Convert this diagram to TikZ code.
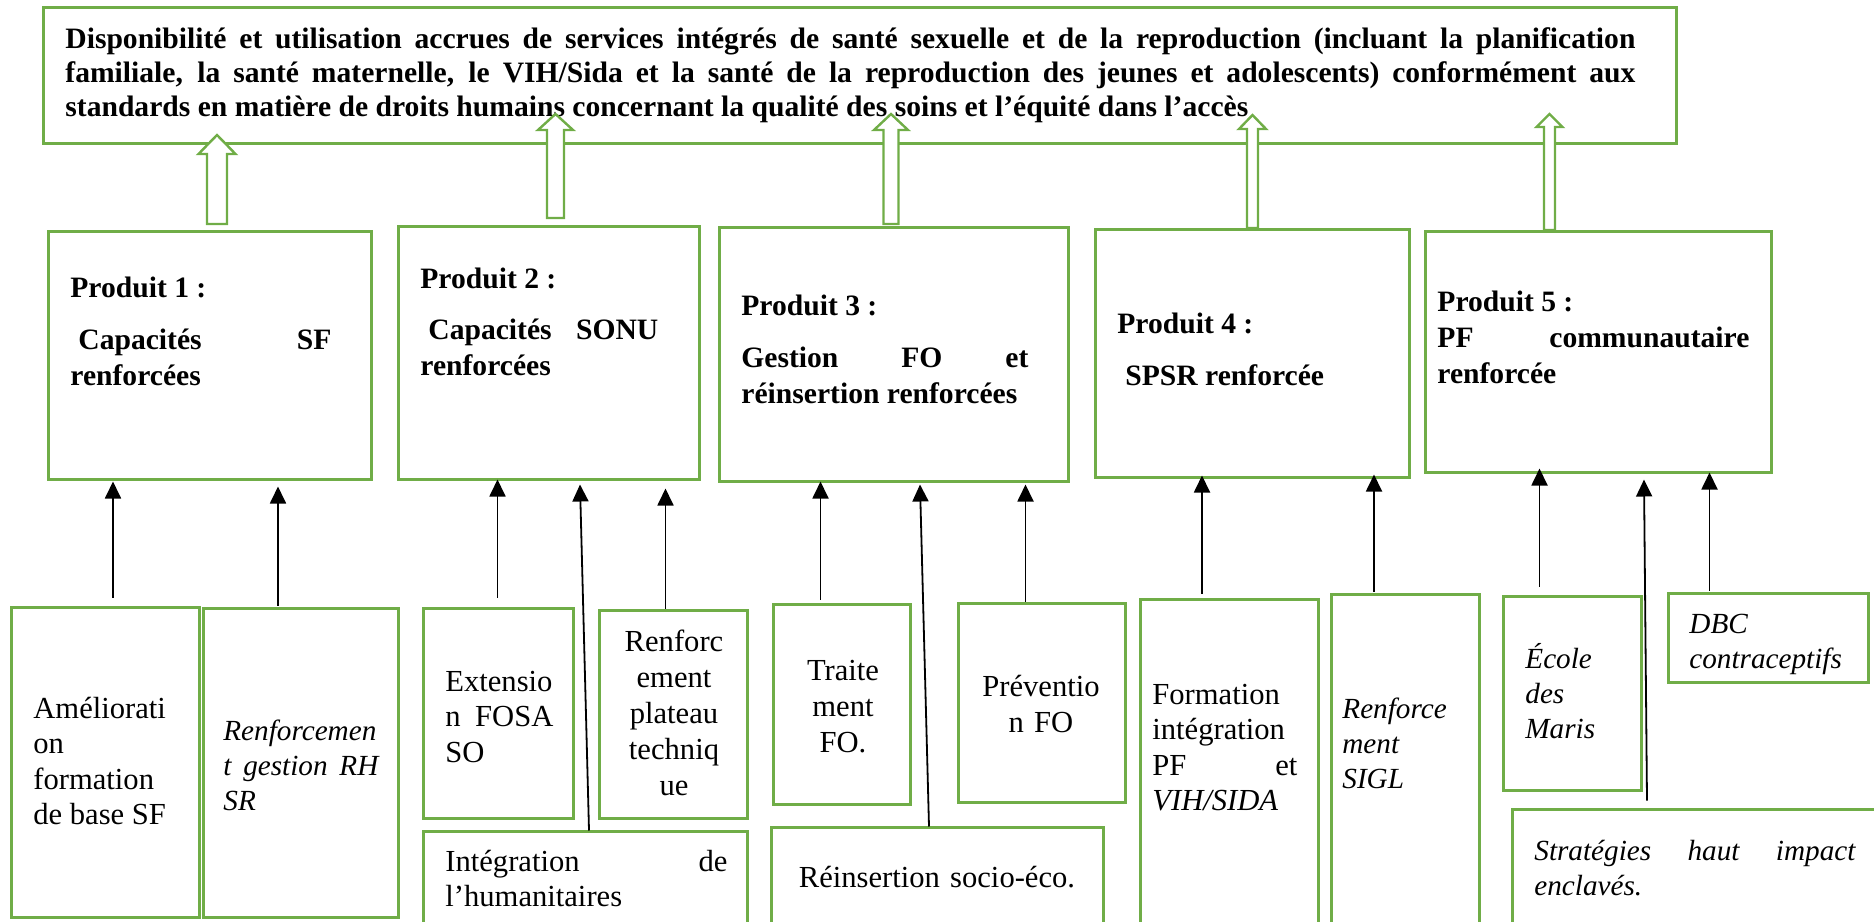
\documentclass[tikz,border=0pt]{standalone}
\usepackage{fontspec}
\setmainfont{Liberation Serif}
\usetikzlibrary{arrows.meta, calc}
\definecolor{leafgreen}{HTML}{70AD47}

% hollow green arrow: base, tip, half shaft, half head, head length
\newcommand{\liftarrow}[5]{%
  \draw[lift] ($(#1)+(-#3,0)$) -- ($(#2)+(-#3,#5)$) -- ($(#2)+(-#4,#5)$) -- (#2)
    -- ($(#2)+(#4,#5)$) -- ($(#2)+(#3,#5)$) -- ($(#1)+(#3,0)$) -- cycle;}

\tikzset{
  box/.style={draw=leafgreen, line width=1.5pt, inner sep=0pt},
  lift/.style={draw=leafgreen, line width=1.2pt, fill=white},
  lead/.style={-{Triangle[length=8.5pt,width=8pt]}, line width=0.9pt},
  goaltext/.style={anchor=base west, inner sep=0pt, text width=785pt, align=justify,
    font=\bfseries\fontsize{14.8pt}{17pt}\selectfont},
  headtext/.style={anchor=base west, inner sep=0pt, align=justify,
    font=\bfseries\fontsize{14.8pt}{18pt}\selectfont},
  leaftext/.style={anchor=base west, inner sep=0pt, align=justify,
    font=\fontsize{15.3pt}{17.75pt}\selectfont},
  leafit/.style={anchor=base west, inner sep=0pt, align=justify,
    font=\itshape\fontsize{14.6pt}{17.5pt}\selectfont},
  leafmid/.style={anchor=base, inner sep=0pt, align=center,
    font=\fontsize{15.3pt}{18pt}\selectfont},
}

\begin{document}
\begin{tikzpicture}[x=0.5pt, y=-0.5pt]
\useasboundingbox (0,0) rectangle (1874,921);
\clip (0,0) rectangle (1874,921);

% goal
\node[box, minimum width=816.5pt, minimum height=68pt] (goal) at (859.5,75) {};
\node[goaltext] (goaltxt) at (65,48) {Disponibilité et utilisation accrues de services intégrés de santé sexuelle et de la reproduction (incluant la planification\linebreak familiale, la santé maternelle, le VIH/Sida et la santé de la reproduction des jeunes et adolescents) conformément aux\linebreak standards en matière de droits humains concernant la qualité des soins et l’équité dans l’accès};

% produits
\node[box, minimum width=161.5pt, minimum height=124pt] (p1) at (209.5,355) {};
\node[box, minimum width=150.5pt, minimum height=126.5pt] (p2) at (548.5,352.5) {};
\node[box, minimum width=174.5pt, minimum height=127pt] (p3) at (893.5,354) {};
\node[box, minimum width=157pt, minimum height=124pt] (p4) at (1252,353) {};
\node[box, minimum width=173pt, minimum height=120.5pt] (p5) at (1598,351.5) {};

\node[headtext, text width=130.5pt] (p1txt) at (70,297) {Produit 1 :\\[8pt]\hspace*{4pt}Capacités SF\linebreak renforcées};
\node[headtext, text width=119pt] (p2txt) at (420,288) {Produit 2 :\\[7.5pt]\hspace*{4pt}Capacités SONU\linebreak renforcées};
\node[headtext, text width=143.5pt] (p3txt) at (741,315) {Produit 3 :\\[8pt]Gestion FO et\linebreak réinsertion renforcées};
\node[headtext, text width=140pt] (p4txt) at (1117,333) {Produit 4 :\\[8pt]\hspace*{4pt}SPSR renforcée};
\node[headtext, text width=156pt] (p5txt) at (1437,311) {Produit 5 :\\PF communautaire\linebreak renforcée};

% hollow arrows up to the goal
\coordinate (s1) at (217,224);    \coordinate (h1) at (217,135);
\coordinate (s2) at (555.5,218);  \coordinate (h2) at (555.5,114);
\coordinate (s3) at (891,224);    \coordinate (h3) at (891,114);
\coordinate (s4) at (1252.5,228); \coordinate (h4) at (1252.5,115);
\coordinate (s5) at (1549.5,230); \coordinate (h5) at (1549.5,114);
\liftarrow{s1}{h1}{10}{18.5}{19}
\liftarrow{s2}{h2}{8.5}{17.5}{16}
\liftarrow{s3}{h3}{7.5}{17}{16}
\liftarrow{s4}{h4}{5.5}{13.5}{14}
\liftarrow{s5}{h5}{5.5}{13}{13}

% activites
\node[box, minimum width=94pt, minimum height=155pt] (b1) at (105,762) {};
\node[box, minimum width=97.5pt, minimum height=154.5pt] (b2) at (300.5,762.5) {};
\node[box, minimum width=75pt, minimum height=105pt] (b3) at (498,713) {};
\node[box, minimum width=74pt, minimum height=104pt] (b4) at (673,714) {};
\node[box, minimum width=162pt, minimum height=60pt] (b5) at (585,891) {};
\node[box, minimum width=68.5pt, minimum height=100pt] (b6) at (841.5,704) {};
\node[box, minimum width=83.5pt, minimum height=99.5pt] (b7) at (1041.5,702.5) {};
\node[box, minimum width=166pt, minimum height=62pt] (b8) at (937,889) {};
\node[box, minimum width=89pt, minimum height=176pt] (b9) at (1229,775) {};
\node[box, minimum width=74pt, minimum height=178.5pt] (b10) at (1405,772.5) {};
\node[box, minimum width=69pt, minimum height=97pt] (b11) at (1572,693) {};
\node[box, minimum width=100pt, minimum height=44.5pt] (b12) at (1768,637.5) {};
\node[box, minimum width=194pt, minimum height=71pt] (b13) at (1706,880) {};

\node[leaftext, text width=80pt] (b1txt) at (33,718) {Améliorati\\on\\formation\\de base SF};
\node[leafit, text width=77.5pt] (b2txt) at (223,740) {Renforcemen\\t gestion RH\linebreak SR};
\node[leaftext, text width=54pt] (b3txt) at (445,691) {Extensio\\n FOSA\linebreak SO};
\node[leafmid, text width=74pt] (b4txt) at (674,651) {Renforc\\ement\\plateau\\techniq\\ue};
\node[leaftext, text width=141pt] (b5txt) at (445,871) {Intégration de\linebreak l’humanitaires};
\node[leafmid, text width=68pt] (b6txt) at (843,680) {Traite\\ment\\FO.};
\node[leafmid, text width=83pt] (b7txt) at (1041,696) {Préventio\\n FO};
\node[leafmid, text width=166pt] (b8txt) at (937,887) {Réinsertion socio-éco.};
\node[leaftext, text width=72.5pt] (b9txt) at (1152,704) {Formation\\intégration\\PF et\linebreak \textit{VIH/SIDA}};
\node[leafit, text width=68pt] (b10txt) at (1342,718) {Renforce\\ment\\SIGL};
\node[leafit, text width=55pt] (b11txt) at (1525,668) {École\\des\\Maris};
\node[leafit, text width=90pt] (b12txt) at (1689,633) {DBC\\contraceptifs};
\node[leafit, text width=160.5pt] (b13txt) at (1534,860) {Stratégies haut impact\linebreak enclavés.};

% activites -> produits
\draw[lead] ($(b1.north)+(8,-8)$) -- ($(p1.south)+(-96.5,1)$);
\draw[lead] ($(b2.north)+(-22.5,-1)$) -- ($(p1.south)+(68.5,6)$);
\draw[lead] ($(b3.north)+(-0.5,-9)$) -- ($(p2.south)+(-51,-1)$);
\draw[lead] ($(b5.north)+(4,1)$) -- ($(p2.south)+(31.5,4)$);
\draw[lead] ($(b4.north)+(-7.5,0)$) -- ($(p2.south)+(117,8)$);
\draw[lead] ($(b6.north)+(-21,-3)$) -- ($(p3.south)+(-73,-1)$);
\draw[lead] ($(b8.north)+(-8,1)$) -- ($(p3.south)+(26.5,2)$);
\draw[lead] ($(b7.north)+(-16,0)$) -- ($(p3.south)+(132,2)$);
\draw[lead] ($(b9.north)+(-27,-4)$) -- ($(p4.south)+(-50,-3)$);
\draw[lead] ($(b10.north)+(-31,-1)$) -- ($(p4.south)+(122,-4)$);
\draw[lead] ($(b11.north)+(-32.5,-8)$) -- ($(p5.south)+(-58.5,-5)$);
\draw[lead] ($(b13.north)+(-59,-7)$) -- ($(p5.south)+(46,6)$);
\draw[lead] ($(b12.north)+(-58.5,-1)$) -- ($(p5.south)+(111.5,-1)$);
\end{tikzpicture}
\end{document}
